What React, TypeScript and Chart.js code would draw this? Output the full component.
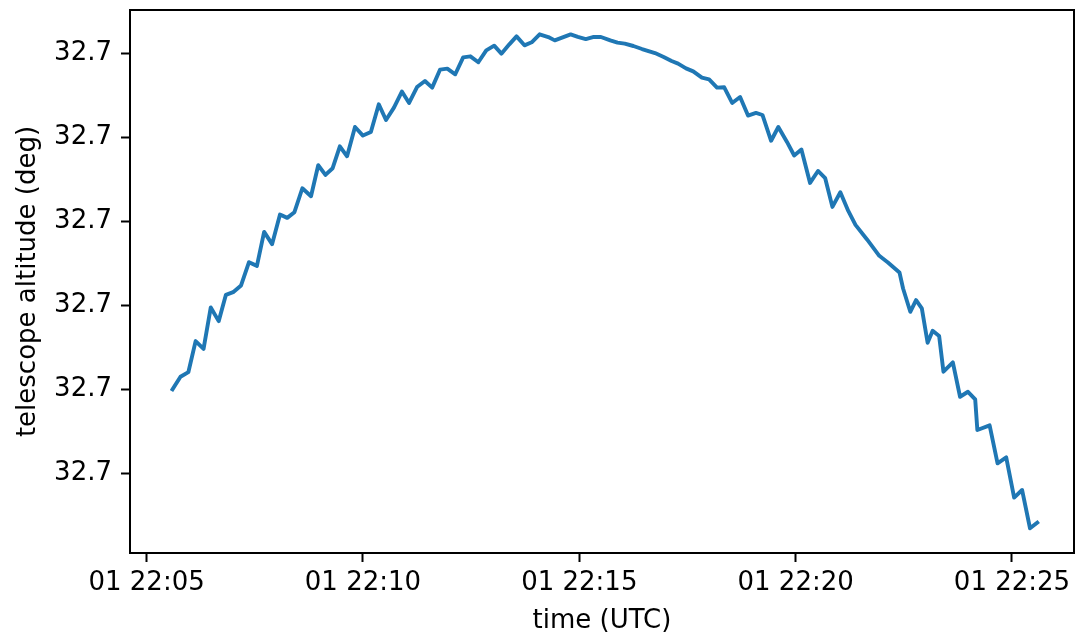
import React, { useEffect, useRef } from "react";
import { Chart, registerables } from "chart.js";

Chart.register(...registerables);

// Sample times (UTC, hh:mm:ss on day 01)
const times: string[] = [
  "22:05:36", "22:05:47", "22:05:58", "22:06:08", "22:06:19", "22:06:29", "22:06:40", "22:06:50",
  "22:07:00", "22:07:11", "22:07:22", "22:07:33", "22:07:43", "22:07:54", "22:08:05", "22:08:15",
  "22:08:25", "22:08:36", "22:08:48", "22:08:58", "22:09:08", "22:09:18", "22:09:28", "22:09:38",
  "22:09:49", "22:10:00", "22:10:11", "22:10:22", "22:10:32", "22:10:43", "22:10:54", "22:11:04",
  "22:11:15", "22:11:26", "22:11:36", "22:11:47", "22:11:57", "22:12:08", "22:12:19", "22:12:29",
  "22:12:40", "22:12:51", "22:13:02", "22:13:12", "22:13:23", "22:13:33", "22:13:44", "22:13:54",
  "22:14:05", "22:14:17", "22:14:26", "22:14:37", "22:14:48", "22:14:58", "22:15:09", "22:15:19",
  "22:15:30", "22:15:43", "22:15:53", "22:16:03", "22:16:15", "22:16:27", "22:16:36", "22:16:45",
  "22:16:57", "22:17:08", "22:17:17", "22:17:28", "22:17:38", "22:17:50", "22:18:00", "22:18:11",
  "22:18:21", "22:18:32", "22:18:43", "22:18:54", "22:19:05", "22:19:14", "22:19:26", "22:19:36",
  "22:19:48", "22:19:58", "22:20:08", "22:20:20", "22:20:31", "22:20:41", "22:20:51", "22:21:02",
  "22:21:13", "22:21:23", "22:21:39", "22:21:56", "22:22:08", "22:22:24", "22:22:29", "22:22:39",
  "22:22:47", "22:22:55", "22:23:03", "22:23:10", "22:23:19", "22:23:25", "22:23:38", "22:23:48",
  "22:23:59", "22:24:09", "22:24:12", "22:24:29", "22:24:40", "22:24:52", "22:25:03", "22:25:14",
  "22:25:25", "22:25:35",
];

// Telescope altitude (deg)
const altitude: number[] = [
  32.70001000, 32.70001150, 32.70001206, 32.70001575, 32.70001483, 32.70001976, 32.70001813, 32.70002126,
  32.70002158, 32.70002238, 32.70002515, 32.70002471, 32.70002876, 32.70002730, 32.70003083, 32.70003043,
  32.70003111, 32.70003396, 32.70003301, 32.70003670, 32.70003555, 32.70003635, 32.70003896, 32.70003777,
  32.70004126, 32.70004024, 32.70004067, 32.70004396, 32.70004210, 32.70004357, 32.70004548, 32.70004412,
  32.70004602, 32.70004674, 32.70004595, 32.70004810, 32.70004821, 32.70004754, 32.70004956, 32.70004968,
  32.70004897, 32.70005039, 32.70005095, 32.70005000, 32.70005111, 32.70005206, 32.70005099, 32.70005135,
  32.70005230, 32.70005198, 32.70005158, 32.70005194, 32.70005230, 32.70005200, 32.70005174, 32.70005198,
  32.70005198, 32.70005158, 32.70005131, 32.70005119, 32.70005091, 32.70005055, 32.70005031, 32.70005007,
  32.70004960, 32.70004912, 32.70004881, 32.70004825, 32.70004789, 32.70004714, 32.70004694, 32.70004595,
  32.70004599, 32.70004412, 32.70004483, 32.70004262, 32.70004293, 32.70004269, 32.70003962, 32.70004126,
  32.70003948, 32.70003786, 32.70003857, 32.70003460, 32.70003602, 32.70003516, 32.70003174, 32.70003349,
  32.70003126, 32.70002960, 32.70002786, 32.70002591, 32.70002512, 32.70002393, 32.70002202, 32.70001924,
  32.70002063, 32.70001964, 32.70001555, 32.70001698, 32.70001635, 32.70001210, 32.70001321, 32.70000912,
  32.70000971, 32.70000881, 32.70000515, 32.70000571, 32.70000119, 32.70000190, 32.69999710, 32.69999801,
  32.69999345, 32.69999412,
];

// Axis ticks
const xTickTimes: string[] = ["22:05:00", "22:10:00", "22:15:00", "22:20:00", "22:25:00"];
const xTickLabels: string[] = ["01 22:05", "01 22:10", "01 22:15", "01 22:20", "01 22:25"];
const yTickValues: number[] = [32.7, 32.70001, 32.70002, 32.70003, 32.70004, 32.70005];
const yTickLabels: string[] = ["32.7", "32.7", "32.7", "32.7", "32.7", "32.7"];

// Axis limits
const xMinTime = "22:04:37";
const xMaxTime = "22:26:26";
const yMin = 32.6999905;
const yMax = 32.7000552;

const toSec = (t: string): number => {
  const [h, m, s] = t.split(":").map(Number);
  return (h - 22) * 3600 + m * 60 + s;
};

const FONT = "'DejaVu Sans', sans-serif";

export default function App() {
  const ref = useRef<HTMLCanvasElement | null>(null);

  useEffect(() => {
    if (!ref.current) return;
    const xTicks = xTickTimes.map(toSec);
    const framePlugin = {
      id: "frame",
      afterDraw(chart: any) {
        const { ctx, chartArea } = chart;
        ctx.save();
        ctx.strokeStyle = "#000";
        ctx.lineWidth = 2;
        ctx.strokeRect(chartArea.left, chartArea.top, chartArea.right - chartArea.left, chartArea.bottom - chartArea.top);
        ctx.restore();
      },
    };
    const chart = new Chart(ref.current, {
      type: "line",
      data: {
        datasets: [
          {
            data: times.map((t, i) => ({ x: toSec(t), y: altitude[i] })),
            borderColor: "#1f77b4",
            borderWidth: 3.9,
            pointRadius: 0,
            tension: 0,
            borderJoinStyle: "round",
            borderCapStyle: "square",
            fill: false,
          },
        ],
      },
      options: {
        animation: false,
        responsive: false,
        devicePixelRatio: 1,
        layout: { padding: { top: 10, right: 1, left: 0, bottom: 0 } },
        plugins: { legend: { display: false }, tooltip: { enabled: false } },
        scales: {
          x: {
            type: "linear",
            min: toSec(xMinTime),
            max: toSec(xMaxTime),
            afterFit: (axis: any) => {
              axis.height = 84;
              axis.paddingLeft = 0;
              axis.paddingRight = 0;
            },
            afterBuildTicks: (axis: any) => {
              axis.ticks = xTicks.map((v) => ({ value: v }));
            },
            grid: {
              display: true,
              drawOnChartArea: false,
              drawTicks: true,
              tickLength: 9,
              tickWidth: 2,
              tickColor: "#000",
            },
            border: { display: false },
            ticks: {
              autoSkip: false,
              maxRotation: 0,
              padding: 6,
              color: "#000",
              font: { family: FONT, size: 26 },
              callback: (v: any) => {
                const i = xTicks.indexOf(Number(v));
                return i >= 0 ? xTickLabels[i] : "";
              },
            },
            title: {
              display: true,
              text: "time (UTC)",
              color: "#000",
              font: { family: FONT, size: 26, lineHeight: 1.2 },
              padding: { top: 0, bottom: 0 },
            },
          },
          y: {
            type: "linear",
            min: yMin,
            max: yMax,
            afterFit: (axis: any) => {
              axis.width = 130;
              axis.paddingTop = 0;
              axis.paddingBottom = 0;
            },
            afterBuildTicks: (axis: any) => {
              axis.ticks = yTickValues.map((v) => ({ value: v }));
            },
            grid: {
              display: true,
              drawOnChartArea: false,
              drawTicks: true,
              tickLength: 9,
              tickWidth: 2,
              tickColor: "#000",
            },
            border: { display: false },
            ticks: {
              autoSkip: false,
              padding: 9,
              color: "#000",
              font: { family: FONT, size: 26 },
              callback: (v: any) => {
                const i = yTickValues.findIndex((t) => Math.abs(t - Number(v)) < 1e-9);
                return i >= 0 ? yTickLabels[i] : "";
              },
            },
            title: {
              display: true,
              text: "telescope altitude (deg)",
              color: "#000",
              font: { family: FONT, size: 26, lineHeight: 1.2 },
              padding: { top: 13, bottom: 0 },
            },
          },
        },
      },
      plugins: [framePlugin],
    } as any);
    return () => chart.destroy();
  }, []);

  return (
    <div style={{ position: "fixed", left: 0, top: 0, width: 1075, height: 637, background: "#fff" }}>
      <canvas ref={ref} width={1075} height={637} style={{ width: 1075, height: 637, display: "block" }} />
    </div>
  );
}
